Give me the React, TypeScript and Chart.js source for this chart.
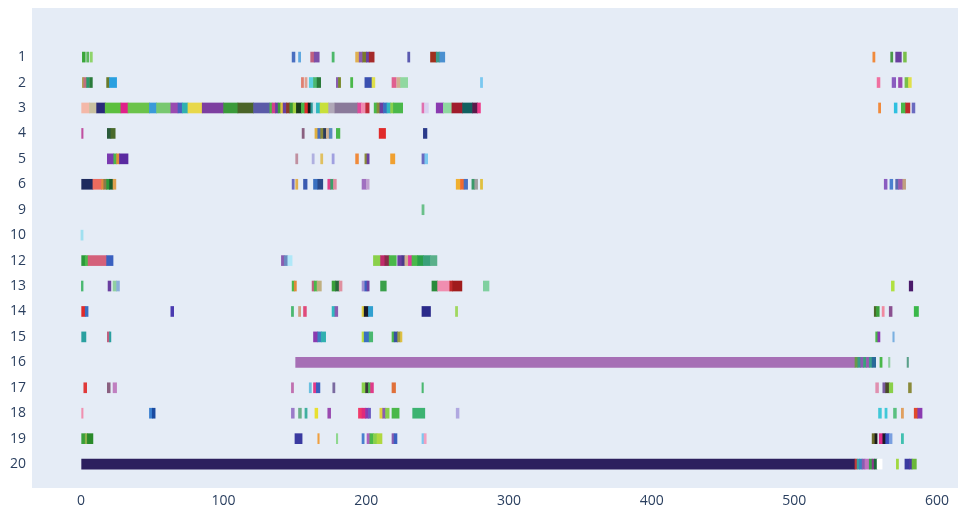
import { useEffect, useRef } from "react";
import { Chart, registerables } from "chart.js";

Chart.register(...registerables);

type Seg = [number, number];

const categories = ["1", "2", "3", "4", "5", "6", "9", "10", "12", "13", "14", "15", "16", "17", "18", "19", "20"];
const xTicks = [0, 100, 200, 300, 400, 500, 600];

const row1: Seg[] = [[1, 3], [4, 5.5], [6.5, 8], [148, 150], [152.5, 154], [161, 163.5], [163.5, 167], [176, 177.5], [192.5, 195], [195, 197.5], [197.5, 200], [200, 202], [202, 205.5], [229, 230.5], [245, 249], [249, 251.5], [251.5, 255], [555, 556.5], [567.5, 569], [571, 575], [576.5, 578.5]];
const row1Colors = ["#3aa63a", "#5cb85c", "#8fd46a", "#4a6fc0", "#5fa8e0", "#c06080", "#7c4fa8", "#4cb86a", "#e0b050", "#8a5cb0", "#7a7a2a", "#6b3fa0", "#a52a2a", "#5a5ab0", "#a0301c", "#3a9a8a", "#4a90d0", "#f08a3c", "#4a9a4a", "#6a3fa0", "#7ac04a"];

const row2: Seg[] = [[1, 2], [2, 4], [4, 5.5], [6, 8], [18, 20], [20, 25], [154.5, 156], [157, 158.5], [160, 163], [163, 165.5], [165.5, 168], [179, 180.5], [180.5, 182], [189, 190.5], [199, 204], [204, 206], [218, 221], [221.5, 224], [224, 229], [280, 281.5], [558, 560], [568.5, 571], [573, 575.5], [577.5, 580], [580, 582]];
const row2Colors = ["#b0a050", "#c07080", "#2a9a6a", "#2a7a3a", "#6a7a2a", "#2aa0e0", "#e08070", "#e0a090", "#5ad0e0", "#4ab870", "#2a7a3a", "#8a5cb0", "#7a8a2a", "#4ab84a", "#3a50b0", "#e0e04a", "#e06090", "#d0b090", "#90d8a0", "#7ac8f0", "#f070a0", "#8a5cc0", "#9a4ab0", "#7ac04a", "#e0e04a"];

const row3: Seg[] = [[0.5, 6], [6, 11], [11, 17], [17, 28], [28, 33], [33, 48], [48, 53], [53, 63], [63, 68], [68, 71], [71, 75], [75, 85], [85, 100], [100, 110], [110, 121], [121, 132.4], [132.4, 134], [134, 136.3], [136.3, 138.2], [138.2, 140], [140, 141.7], [141.7, 144], [144, 146.4], [146.4, 148.7], [148.7, 151], [151, 154.5], [154.5, 156.9], [156.9, 159.2], [159.2, 161.1], [161.1, 162.7], [162.7, 165], [165, 167.6], [167.6, 173.6], [173.6, 178], [178, 194], [194, 196.5], [196.5, 199], [199.5, 202], [205.5, 207.5], [207.5, 209.5], [209.5, 212], [212, 214.5], [214.5, 217], [217, 219], [219, 225.5], [239, 240.5], [241, 243.5], [249, 254], [254, 260], [260, 267.5], [267.5, 274.5], [274.5, 278], [278, 280], [559, 560.5], [570, 572], [575, 578], [578, 581], [582.5, 584.5]];
const row3Colors = ["#f4b8a8", "#c8c0a0", "#2a2a7a", "#5cbf3e", "#e0208a", "#6bc34a", "#3a9ad9", "#78c870", "#9a4ab0", "#4a60c0", "#30b0b0", "#e8d84a", "#7d3fa0", "#3a9a3a", "#4a6428", "#5a5aa8", "#4ab84a", "#d0408a", "#6a3fa0", "#3aa03a", "#e0c040", "#6a3fa0", "#8a3a2a", "#3a9a3a", "#a0d040", "#1a3a1a", "#4ab84a", "#e02a2a", "#1a1a1a", "#2a9a9a", "#c8e4ee", "#30b8c0", "#c8e03a", "#b0a8b8", "#8a7a9a", "#e04a9a", "#f08ab0", "#c02a3a", "#4ab84a", "#8a8a3a", "#6a3fa0", "#3a70c0", "#30b8c0", "#8ad04a", "#4ab84a", "#e070b0", "#d8d0f0", "#8a3ab0", "#8fd8a0", "#a01c2c", "#126060", "#5a1a4a", "#f03a8a", "#f08a3c", "#30c0e0", "#4ab84a", "#c02a2a", "#6a6ac0"];

const row4: Seg[] = [[0.5, 1.5], [18.5, 21], [21, 24], [155, 156.5], [164, 166], [166, 168], [168, 170], [170, 172], [172, 174], [174, 176], [179, 181.5], [209, 213.5], [240, 242.5]];
const row4Colors = ["#c050a0", "#2a5a3a", "#4a6a2a", "#8a6080", "#e0b040", "#4a70c0", "#8a8a3a", "#2a3a5a", "#d0b090", "#5a8ac0", "#4ab84a", "#e02a2a", "#2a3a8a"];

const row5: Seg[] = [[18.5, 23], [23, 25], [25, 27], [27, 33], [150.5, 152], [162, 163.5], [168, 169.5], [176, 177.5], [192.5, 194.5], [199, 200.5], [200.5, 202], [217, 220], [239, 241], [241, 243]];
const row5Colors = ["#7a3ab0", "#4ab84a", "#e08a3a", "#5a2aa0", "#c090a0", "#b0b0e0", "#e0c060", "#a0a0e0", "#f08a3a", "#8a8a3a", "#6a3fa0", "#f0a030", "#6a6ac0", "#7ac8f0"];

const row6: Seg[] = [[0.5, 8.4], [8.4, 14.5], [14.5, 16], [16, 18], [18, 20], [20, 22.5], [22.5, 24.5], [148, 149.5], [150.5, 152], [156, 158.5], [163, 166], [166, 169.5], [173, 175], [175, 177], [177, 179], [197, 200], [200, 202], [263, 266], [266, 268.5], [268.5, 271], [274, 276], [276, 278], [280, 281.5], [563, 565], [567, 569], [571, 573], [573, 576], [576, 578]];
const row6Colors = ["#1e2a5e", "#ec6b5e", "#e08a3a", "#8a7a4a", "#2a9a3a", "#1a5a2a", "#e0a050", "#6a6ac0", "#e0b050", "#3a5ab0", "#3a70c0", "#2a4a8a", "#e0408a", "#3aa06a", "#e08aa0", "#a070c0", "#c0a0d0", "#f0b030", "#f06a30", "#4a70c0", "#3a9a6a", "#a0a0a0", "#e0c040", "#8a5cc0", "#4a80d0", "#5a6ab0", "#9a5ab0", "#c0a080"];

const row9: Seg[] = [[239, 240.5]];
const row9Colors = ["#6ac08a"];

const row10: Seg[] = [[0, 1.5]];
const row10Colors = ["#a0e0f0"];

const row12: Seg[] = [[0.5, 3], [3, 5], [5, 18], [18, 22.5], [140.5, 142.5], [142.5, 145], [145, 148], [205, 210], [210, 213], [213, 216], [216, 221], [222, 225], [225, 227], [227, 229.5], [229.5, 232], [232, 236], [236, 240], [240, 245], [245, 249.5]];
const row12Colors = ["#2a9a3a", "#4ab84a", "#d4607a", "#3a60c0", "#8a5cb0", "#6a8ac0", "#b0e8f8", "#8ad04a", "#c02a6a", "#8a2a4a", "#4ab84a", "#6a3fa0", "#4a3a8a", "#d0b090", "#e03a9a", "#4ab84a", "#2aa04a", "#3aa07a", "#5ab08a"];

const row13: Seg[] = [[0.3, 1.5], [19, 21], [22.5, 25], [25, 27], [148, 149.5], [149.5, 151], [162, 163.5], [163.5, 165.5], [165.5, 168.5], [176, 178.5], [178.5, 181], [181, 183], [197, 199], [199, 200.5], [200.5, 202], [210, 214], [246, 250], [250, 258.5], [258.5, 260.5], [260.5, 267], [282, 286], [568, 570], [580.5, 583]];
const row13Colors = ["#4ab870", "#6a3fa0", "#90d0a0", "#8ab0d8", "#4ab84a", "#e08a3a", "#c06080", "#4ab84a", "#c0b080", "#3aa03a", "#2a6a3a", "#e090a0", "#a090d0", "#3a60c0", "#6a3fa0", "#3aa04a", "#2a8a3a", "#f08eb0", "#c02a2a", "#a01c1c", "#80d0a0", "#b0e040", "#4a1a6a"];

const row14: Seg[] = [[0.5, 3], [3, 5], [63, 65], [147.5, 149], [152.5, 154], [156, 158], [176, 178], [178, 180], [197, 198.5], [198.5, 201.5], [201.5, 204.5], [239, 245], [262.5, 264], [556, 557.5], [557.5, 559.5], [561.5, 563], [566.5, 568.5], [584, 587]];
const row14Colors = ["#e02a2a", "#3a70c0", "#4a3ab0", "#4ab870", "#d0a080", "#e04a7a", "#30b8c0", "#8a5cb0", "#e0d040", "#1a1a2a", "#30a0d0", "#2a2a8a", "#a0d860", "#4a6a2a", "#3aa03a", "#f08aa0", "#8a5090", "#3ab84a"];

const row15: Seg[] = [[0.5, 3.5], [18.5, 20], [20, 21], [163, 166], [166, 168.5], [168.5, 171.5], [197, 198.5], [198.5, 202], [202, 204.5], [218, 219.5], [219.5, 222], [222, 224], [224, 225], [557, 558.5], [558.5, 560], [569, 570]];
const row15Colors = ["#2aa0a0", "#c06080", "#2aa0a0", "#8a3ab0", "#3a80c0", "#30b0b0", "#c0e040", "#3a70c0", "#4ab870", "#4ab84a", "#3a50a0", "#a0a040", "#e0c040", "#4ab84a", "#8a3ab0", "#7ab0e0"];

const row16: Seg[] = [[150.5, 542.5], [542.5, 544.5], [544.5, 546.5], [546.5, 548.5], [548.5, 550.5], [550.5, 552.5], [552.5, 554.5], [554.5, 557], [560, 561.5], [566, 567], [579, 580]];
const row16Colors = ["#a66fb5", "#6a9a4a", "#3a9a8a", "#8a5cb0", "#3aa07a", "#9a5ab0", "#3aa08a", "#2a6a9a", "#4ab84a", "#90d0a0", "#5aa08a"];

const row17: Seg[] = [[2, 4], [18.5, 20.5], [22.5, 25], [147.5, 149], [160, 161.5], [163, 165], [165, 167.5], [176.5, 178], [197, 199.5], [199.5, 201.5], [201.5, 203], [203, 205], [218, 220.5], [239, 240], [557, 559], [562, 564], [564, 566.5], [566.5, 569], [580, 582]];
const row17Colors = ["#e03a3a", "#8a6080", "#c080c0", "#c070b0", "#6ac0e0", "#e03a8a", "#3a60c0", "#7a6aa0", "#8ad04a", "#3a3a3a", "#4ab84a", "#e03a8a", "#e0703a", "#4ab870", "#e090b0", "#7a5ca0", "#4a4a2a", "#8ad04a", "#8a8a3a"];

const row18: Seg[] = [[0.5, 1.5], [48, 50], [50, 52], [147.5, 149.5], [152.5, 154.5], [157, 158.5], [164, 166], [173, 175], [194.5, 197], [197, 199.5], [199.5, 201.5], [201.5, 203], [209.5, 211.5], [211.5, 213.5], [213.5, 216], [218, 223], [232.5, 241], [263, 265], [559, 561], [563.5, 565], [569.5, 571.5], [575, 576.5], [584, 586.5], [586.5, 589.5]];
const row18Colors = ["#f090b0", "#3a80d0", "#1a4aa0", "#9a7ac8", "#6ab08a", "#40b0a0", "#e8e030", "#9a4ab0", "#f03a6a", "#e02a7a", "#8a3ab0", "#6a5ac0", "#e0d040", "#8a5cb0", "#8ad04a", "#4ab84a", "#3cb371", "#b0a8e0", "#40c8d8", "#40c8d8", "#5ac080", "#e0a060", "#e04a2a", "#8a3ab0"];

const row19: Seg[] = [[0.5, 3], [3, 4.5], [4.5, 8.4], [150, 155], [166, 167], [179, 180], [197, 198.5], [200.5, 202.5], [202.5, 205], [205, 207.5], [207.5, 211], [218, 219.5], [219.5, 221.5], [239, 240.5], [240.5, 242], [554.5, 556.5], [556.5, 558], [559.5, 562], [562, 564], [564, 566.5], [566.5, 568.5], [575, 576.5]];
const row19Colors = ["#3aa03a", "#8ab04a", "#2a8a2a", "#3a3aa0", "#f0a040", "#90d890", "#4a80d0", "#b060c0", "#4ab84a", "#8ad04a", "#b0d840", "#8a5cb0", "#3a60c0", "#7ac8f0", "#f0a0c0", "#6a6a2a", "#1a1a1a", "#e02a8a", "#1a1a2a", "#3a50c0", "#7aa0e0", "#40c0b0"];

const row20: Seg[] = [[0.5, 542.5], [542.5, 544], [544, 545.5], [545.5, 547.5], [547.5, 549.5], [549.5, 552.5], [552.5, 554.5], [554.5, 556], [556, 558], [558, 561.5], [571.5, 573], [577.5, 580.5], [580.5, 582.5], [582.5, 585.5]];
const row20Colors = ["#2c1f5e", "#c03a3a", "#3aa0a0", "#3a80c0", "#8a5cb0", "#c070c0", "#3aa04a", "#8a3a8a", "#1a6a3a", "#ffffff", "#a0d840", "#3a3aa0", "#4a3aa0", "#6ab83a"];

const rowSegments = [row1, row2, row3, row4, row5, row6, row9, row10, row12, row13, row14, row15, row16, row17, row18, row19, row20];
const rowColors = [row1Colors, row2Colors, row3Colors, row4Colors, row5Colors, row6Colors, row9Colors, row10Colors, row12Colors, row13Colors, row14Colors, row15Colors, row16Colors, row17Colors, row18Colors, row19Colors, row20Colors];

export default function App() {
  const ref = useRef<HTMLCanvasElement>(null);

  useEffect(() => {
    if (!ref.current) return;
    const data: { x: [number, number]; y: number }[] = [];
    const colors: string[] = [];
    rowSegments.forEach((segs, i) => {
      segs.forEach((s, j) => {
        data.push({ x: [s[0], s[1]], y: i });
        colors.push(rowColors[i][j]);
      });
    });

    const bgPlugin = {
      id: "plotBg",
      beforeDraw(chart: any) {
        const { ctx, chartArea: a } = chart;
        ctx.save();
        ctx.fillStyle = "#E5ECF6";
        ctx.fillRect(a.left, a.top, a.right - a.left, a.bottom - a.top);
        ctx.restore();
      },
    };

    const font = { family: "'Open Sans', sans-serif", size: 14 };

    const chart = new Chart(ref.current, {
      type: "bar",
      data: {
        datasets: [
          {
            data: data as any,
            backgroundColor: colors,
            borderWidth: 0,
            barThickness: 10,
          },
        ],
      },
      options: {
        indexAxis: "y",
        animation: false,
        responsive: true,
        maintainAspectRatio: false,
        layout: { padding: { top: 8, right: 3, left: 0, bottom: 0 } },
        plugins: { legend: { display: false }, tooltip: { enabled: false } },
        scales: {
          x: {
            type: "linear",
            min: -34.3,
            max: 614.7,
            offset: false,
            grid: { display: false, drawTicks: false },
            border: { display: false },
            afterBuildTicks: (s: any) => {
              s.ticks = xTicks.map((v) => ({ value: v }));
            },
            afterFit: (s: any) => {
              s.height = 22;
              s.paddingLeft = 0;
              s.paddingRight = 0;
            },
            ticks: { font, color: "#2a3f5f", padding: 5, maxRotation: 0, autoSkip: false },
          },
          y: {
            type: "linear",
            reverse: true,
            min: -1.93,
            max: 16.94,
            offset: false,
            grid: { display: false, drawTicks: false, offset: false },
            border: { display: false },
            afterBuildTicks: (s: any) => {
              s.ticks = categories.map((_, i) => ({ value: i }));
            },
            afterFit: (s: any) => {
              s.width = 32;
              s.paddingTop = 0;
              s.paddingBottom = 0;
            },
            ticks: {
              font,
              color: "#2a3f5f",
              padding: 6,
              autoSkip: false,
              callback: (v: any) => categories[Math.round(Number(v))] ?? "",
            },
          },
        },
      },
      plugins: [bgPlugin],
    });
    return () => chart.destroy();
  }, []);

  return (
    <div style={{ position: "fixed", left: 0, top: 0, width: 961, height: 510, background: "#fff" }}>
      <canvas ref={ref} />
    </div>
  );
}
